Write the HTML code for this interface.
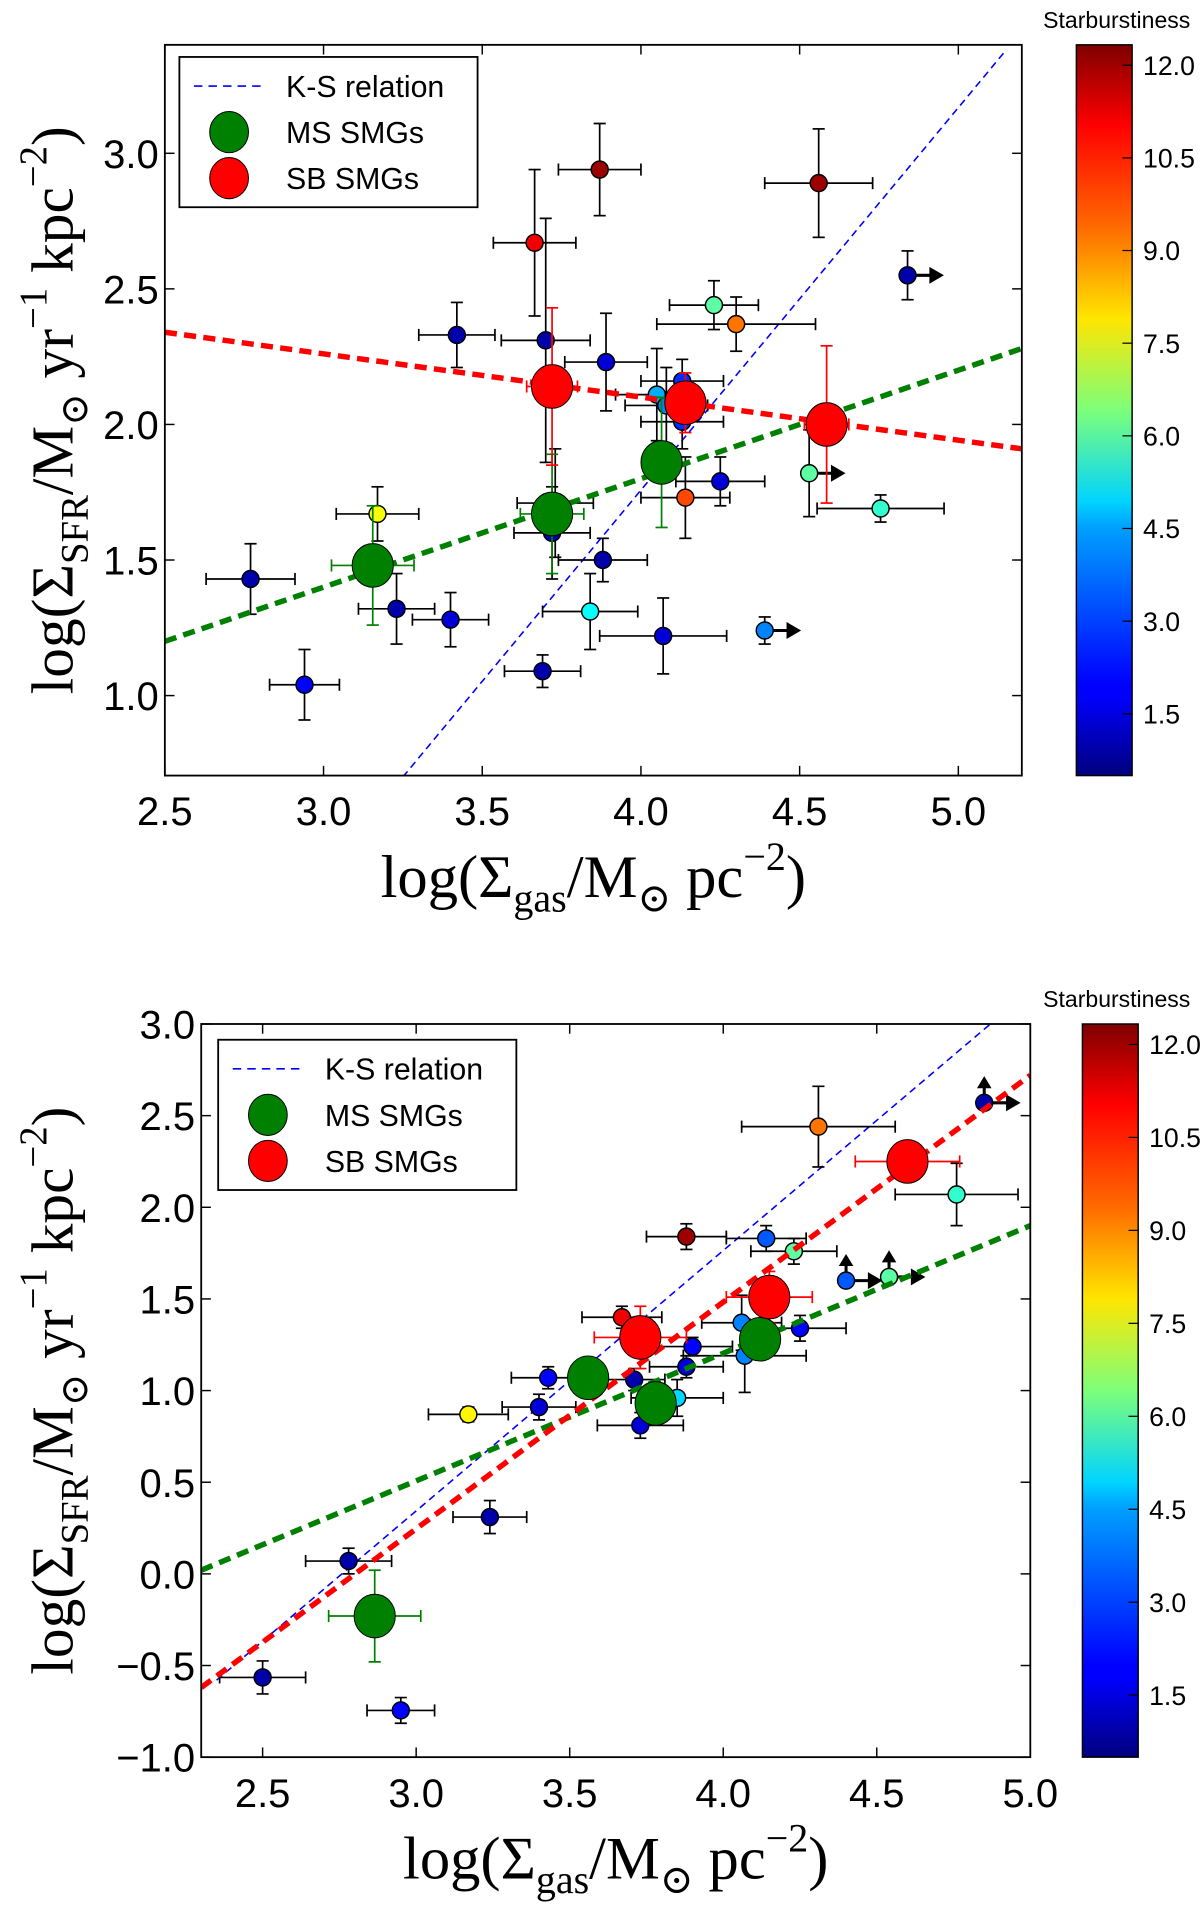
<!DOCTYPE html>
<html><head><meta charset="utf-8"><style>
html,body{margin:0;padding:0;background:#fff;}
svg{display:block;}
text{font-family:"Liberation Sans","DejaVu Sans",sans-serif;}
.serif{font-family:"Liberation Serif","DejaVu Serif",serif;}
</style></head><body>
<svg id="fig" width="1200" height="1905" viewBox="0 0 990 1572" preserveAspectRatio="none" xmlns="http://www.w3.org/2000/svg">
<defs>
<linearGradient id="jet" x1="0" y1="1" x2="0" y2="0">
<stop offset="0" stop-color="#00007f"/><stop offset="0.11" stop-color="#0000ff"/><stop offset="0.125" stop-color="#0000ff"/><stop offset="0.34" stop-color="#00a0ff"/><stop offset="0.375" stop-color="#00d4ff"/><stop offset="0.5" stop-color="#7dff7a"/><stop offset="0.625" stop-color="#ffe600"/><stop offset="0.75" stop-color="#ff6a00"/><stop offset="0.89" stop-color="#ff0000"/><stop offset="1" stop-color="#7f0000"/>
</linearGradient>
</defs>
<g id="top"></g>
<g id="bottom"></g>
</svg>
<script>
// ---------- TOP CHART DATA ----------
const topSmallX = [3.87,4.56,3.665,4.84,4.23,4.30,3.42,3.70,3.89,4.05,4.13,4.08,4.13,4.53,4.25,4.14,4.755,3.17,3.72,3.73,2.77,3.88,3.23,3.84,3.40,4.07,4.39,3.69,2.94];
const topSmallY = [2.94,2.89,2.67,2.55,2.44,2.37,2.33,2.31,2.23,2.11,2.16,2.07,2.01,1.82,1.79,1.73,1.69,1.67,1.60,1.71,1.43,1.50,1.32,1.31,1.28,1.22,1.24,1.09,1.04];
const topSmallXerr = [0.13,0.17,0.13,0,0.14,0.25,0.12,0.14,0.13,0.13,0.13,0.13,0.13,0,0.14,0.14,0.2,0.13,0.12,0.12,0.14,0.14,0.12,0.15,0.12,0.2,0,0.12,0.11];
const topSmallYerr = [0.17,0.2,0.27,0.09,0.09,0.1,0.12,0.45,0.18,0.17,0.08,0.14,0.1,0.16,0.09,0.15,0.05,0.1,0.17,0.2,0.13,0.08,0.13,0.14,0.1,0.14,0.05,0.06,0.13];
const topSmallC = [12,12,11,1,6,9.5,1,1,1.5,4,2.5,3.5,2.5,6,1.5,10,5.5,7.8,1,0.8,1,1,1,5,1.5,1.5,3.5,1,2];
const topArrowRight = [0,0,0,1,0,0,0,0,0,0,0,0,0,1,0,0,0,0,0,0,0,0,0,0,0,0,1,0,0];
const topArrowUp = [0,0,0,0,0,0,0,0,0,0,0,0,0,0,0,0,0,0,0,0,0,0,0,0,0,0,0,0,0];
const topMSX = [3.155,3.72,4.065];
const topMSY = [1.48,1.67,1.86];
const topMSXerr = [0.13,0.1,0.0];
const topMSYerr = [0.22,0.22,0.24];
const topSBX = [3.72,4.14,4.585];
const topSBY = [2.14,2.08,2.00];
const topSBXerr = [0.08,0.05,0.07];
const topSBYerr = [0.29,0.11,0.29];
const topRedFit = [[2.5,2.34],[5.2,1.91]];
const topGreenFit = [[2.5,1.20],[5.2,2.28]];
const topKS = [[3.25,0.7],[5.15,3.38]];
const topXTicks = [2.5,3.0,3.5,4.0,4.5,5.0];
const topYTicks = [1.0,1.5,2.0,2.5,3.0];
const cbTicks = [1.5,3.0,4.5,6.0,7.5,9.0,10.5,12.0];

// ---------- BOTTOM CHART DATA ----------
const botSmallX = [4.31,4.85,4.76,3.88,4.14,4.23,4.40,4.54,3.67,4.06,4.25,3.90,3.88,4.07,3.43,3.71,3.40,3.17,3.85,3.73,3.24,2.78,2.50,2.95];
const botSmallY = [2.44,2.57,2.07,1.84,1.83,1.76,1.60,1.62,1.40,1.37,1.34,1.24,1.13,1.19,1.07,1.06,0.91,0.87,0.96,0.81,0.31,0.07,-0.565,-0.745];
const botSmallXerr = [0.25,0,0.2,0.13,0.13,0.14,0,0,0.13,0.13,0.15,0.13,0.12,0.2,0.12,0.1,0.12,0.13,0.15,0.14,0.12,0.14,0.14,0.11];
const botSmallYerr = [0.22,0,0.17,0.07,0.07,0.07,0,0,0.06,0.15,0.07,0.05,0.06,0.2,0.06,0.06,0.07,0.04,0.1,0.07,0.09,0.07,0.09,0.07];
const botSmallC = [9.5,1,5.5,12,3,6,3,6,11,3.5,2,2,1.5,3.5,2,1,1.5,8,4.5,1.5,1,1,1,2];
const botArrowRight = [0,1,0,0,0,0,1,1,0,0,0,0,0,0,0,0,0,0,0,0,0,0,0,0];
const botArrowUp = [0,1,0,0,0,0,1,1,0,0,0,0,0,0,0,0,0,0,0,0,0,0,0,0];
const botMSX = [2.865,3.56,3.78,4.12];
const botMSY = [-0.23,1.07,0.93,1.28];
const botMSXerr = [0.15,0,0,0];
const botMSYerr = [0.25,0,0,0];
const botSBX = [3.73,4.15,4.60];
const botSBY = [1.29,1.51,2.25];
const botSBXerr = [0.15,0.14,0.17];
const botSBYerr = [0.17,0.14,0.1];
const botRedFit = [[2.3,-0.62],[5.0,2.72]];
const botGreenFit = [[2.3,0.02],[5.0,1.90]];
const botKS = [[2.35,-0.58],[4.87,3.0]];
const botXTicks = [2.5,3.0,3.5,4.0,4.5,5.0];
const botYTicks = [-1.0,-0.5,0.0,0.5,1.0,1.5,2.0,2.5,3.0];

const NS = "http://www.w3.org/2000/svg";
function mk(parent, tag, attrs, txt){
  const e = document.createElementNS(NS, tag);
  for (const k in attrs) e.setAttribute(k, attrs[k]);
  if (txt !== undefined) e.textContent = txt;
  parent.appendChild(e);
  return e;
}
function jet(v){
  let t = (v - 0.5) / (12.33 - 0.5); t = Math.max(0, Math.min(1, t));
  const f = (x) => Math.max(0, Math.min(1, x));
  const r = f(1.5 - Math.abs(4*t - 3)), g = f(1.5 - Math.abs(4*t - 2)), b = f(1.5 - Math.abs(4*t - 1));
  return `rgb(${Math.round(r*255)},${Math.round(g*255)},${Math.round(b*255)})`;
}

function drawPanel(g, P){
  const sx = (x) => P.ax0 + (x - P.xmin) / (P.xmax - P.xmin) * (P.ax1 - P.ax0);
  const sy = (y) => P.ay1 - (y - P.ymin) / (P.ymax - P.ymin) * (P.ay1 - P.ay0);
  const clip = mk(g, "clipPath", {id: P.id + "clip"});
  mk(clip, "rect", {x: P.ax0, y: P.ay0, width: P.ax1 - P.ax0, height: P.ay1 - P.ay0});
  const plot = mk(g, "g", {"clip-path": `url(#${P.id}clip)`});
  
  

  function errbars(xs, ys, xe, ye, col, w, cap){
    for (let i = 0; i < xs.length; i++){
      const cx = sx(xs[i]), cy = sy(ys[i]);
      if (xe[i] > 0){
        const a = sx(xs[i] - xe[i]), b = sx(xs[i] + xe[i]);
        mk(plot, "line", {x1: a, y1: cy, x2: b, y2: cy, stroke: col, "stroke-width": w});
        mk(plot, "line", {x1: a, y1: cy - cap, x2: a, y2: cy + cap, stroke: col, "stroke-width": w});
        mk(plot, "line", {x1: b, y1: cy - cap, x2: b, y2: cy + cap, stroke: col, "stroke-width": w});
      }
      if (ye[i] > 0){
        const a = sy(ys[i] - ye[i]), b = sy(ys[i] + ye[i]);
        mk(plot, "line", {x1: cx, y1: a, x2: cx, y2: b, stroke: col, "stroke-width": w});
        mk(plot, "line", {x1: cx - cap, y1: a, x2: cx + cap, y2: a, stroke: col, "stroke-width": w});
        mk(plot, "line", {x1: cx - cap, y1: b, x2: cx + cap, y2: b, stroke: col, "stroke-width": w});
      }
    }
  }
  function fitLine(pts, col, w, dash, name){
    const l = mk(plot, "line", {x1: sx(pts[0][0]), y1: sy(pts[0][1]), x2: sx(pts[1][0]), y2: sy(pts[1][1]), stroke: col, "stroke-width": w, "stroke-dasharray": dash});
    
    
  }
  fitLine(P.ks, "#0000ff", 1.3, "6,4", "ks-relation-line");

  errbars(P.sx, P.sy, P.sxe, P.sye, "#000", 1.4, 5);
  for (let i = 0; i < P.sx.length; i++){
    const cx = sx(P.sx[i]), cy = sy(P.sy[i]);
    if (P.ar[i]){
      mk(plot, "line", {x1: cx, y1: cy, x2: cx + 22, y2: cy, stroke: "#000", "stroke-width": 2.5});
      mk(plot, "polygon", {points: `${cx+18},${cy-7} ${cx+30},${cy} ${cx+18},${cy+7}`, fill: "#000"});
    }
    if (P.au[i]){
      mk(plot, "line", {x1: cx, y1: cy, x2: cx, y2: cy - 16, stroke: "#000", "stroke-width": 2.5});
      mk(plot, "polygon", {points: `${cx-6},${cy-12} ${cx},${cy-22} ${cx+6},${cy-12}`, fill: "#000"});
    }
    const c = mk(plot, "circle", {cx: cx, cy: cy, r: 7, fill: jet(P.sc[i]), stroke: "#000", "stroke-width": 1.2});
    
    
  }
  fitLine(P.gfit, "#008000", 4.5, "10,6", "ms-fit-line");
  fitLine(P.rfit, "#ff0000", 4.5, "10,6", "sb-fit-line");
  errbars(P.msx, P.msy, P.msxe, P.msye, "#008000", 1.4, 5);
  errbars(P.sbx, P.sby, P.sbxe, P.sbye, "#ff0000", 1.4, 5);
  for (let i = 0; i < P.msx.length; i++){
    const c = mk(plot, "ellipse", {cx: sx(P.msx[i]), cy: sy(P.msy[i]), rx: 17, ry: 18, fill: "#008000", stroke: "#000", "stroke-width": 0.8});
    
    
  }
  for (let i = 0; i < P.sbx.length; i++){
    const c = mk(plot, "ellipse", {cx: sx(P.sbx[i]), cy: sy(P.sby[i]), rx: 17, ry: 18, fill: "#ff0000", stroke: "#000", "stroke-width": 0.8});
    
    
  }

  const fr = mk(g, "rect", {x: P.ax0, y: P.ay0, width: P.ax1 - P.ax0, height: P.ay1 - P.ay0, fill: "none", stroke: "#000", "stroke-width": 1.5});
  
  
  P.xt.forEach(v => {
    const x = sx(v);
    mk(g, "line", {x1: x, y1: P.ay1, x2: x, y2: P.ay1 - 8, stroke: "#000", "stroke-width": 1.2});
    mk(g, "line", {x1: x, y1: P.ay0, x2: x, y2: P.ay0 + 8, stroke: "#000", "stroke-width": 1.2});
    const t = mk(g, "text", {x: x, y: P.ay1 + 41, "text-anchor": "middle", "font-size": 33}, v.toFixed(1));
    
    
  });
  P.yt.forEach(v => {
    const y = sy(v);
    mk(g, "line", {x1: P.ax0, y1: y, x2: P.ax0 + 8, y2: y, stroke: "#000", "stroke-width": 1.2});
    mk(g, "line", {x1: P.ax1, y1: y, x2: P.ax1 - 8, y2: y, stroke: "#000", "stroke-width": 1.2});
    const t = mk(g, "text", {x: P.ax0 - 5, y: y + 12, "text-anchor": "end", "font-size": 33}, (v < 0 ? "\u2212" + Math.abs(v).toFixed(1) : v.toFixed(1)));
    
    
  });
  const xl = mk(g, "text", {x: (P.ax0 + P.ax1) / 2, y: P.ay1 + 100, "text-anchor": "middle", "font-size": 50, class: "serif"});
  
  
  xl.innerHTML = 'log(Σ<tspan font-size="33" dy="12">gas</tspan><tspan dy="-12">/M</tspan><tspan font-size="33" dy="12">⊙</tspan><tspan dy="-12"> pc</tspan><tspan font-size="33" dy="-22">−2</tspan><tspan dy="22">)</tspan>';
  const ylx = 60, yly = (P.ay0 + P.ay1) / 2;
  const yl = mk(g, "text", {x: ylx, y: yly, "text-anchor": "middle", "font-size": 49, class: "serif", transform: `rotate(-90 ${ylx} ${yly})`});
  
  
  yl.innerHTML = 'log(Σ<tspan font-size="32" dy="12">SFR</tspan><tspan dy="-12">/M</tspan><tspan font-size="32" dy="12">⊙</tspan><tspan dy="-12"> yr</tspan><tspan font-size="32" dy="-22">−1</tspan><tspan dy="22"> kpc</tspan><tspan font-size="32" dy="-22">−2</tspan><tspan dy="22">)</tspan>';

  const L = mk(g, "g", {});
  
  
  mk(L, "rect", {x: P.lx, y: P.ly, width: 246, height: 124, fill: "#fff", stroke: "#000", "stroke-width": 1.5});
  mk(L, "line", {x1: P.lx + 12, y1: P.ly + 24, x2: P.lx + 68, y2: P.ly + 24, stroke: "#0000ff", "stroke-width": 1.3, "stroke-dasharray": "7,5"});
  mk(L, "text", {x: P.lx + 88, y: P.ly + 33, "font-size": 25}, "K-S relation");
  mk(L, "ellipse", {cx: P.lx + 41, cy: P.ly + 62, rx: 16, ry: 17, fill: "#008000", stroke: "#000", "stroke-width": 0.8});
  mk(L, "text", {x: P.lx + 88, y: P.ly + 71, "font-size": 25}, "MS SMGs");
  mk(L, "ellipse", {cx: P.lx + 41, cy: P.ly + 100, rx: 16, ry: 17, fill: "#ff0000", stroke: "#000", "stroke-width": 0.8});
  mk(L, "text", {x: P.lx + 88, y: P.ly + 109, "font-size": 25}, "SB SMGs");

  const CB = mk(g, "g", {});
  
  
  mk(CB, "rect", {x: P.cx, y: P.ay0, width: 46, height: P.ay1 - P.ay0, fill: "url(#jet)", stroke: "#000", "stroke-width": 1.2});
  const cy = (v) => P.ay1 - (v - 0.5) / (12.33 - 0.5) * (P.ay1 - P.ay0);
  cbTicks.forEach(v => {
    const y = cy(v);
    mk(CB, "line", {x1: P.cx + 46, y1: y, x2: P.cx + 38, y2: y, stroke: "#000", "stroke-width": 1});
    mk(CB, "text", {x: P.cx + 55, y: y + 8, "font-size": 22}, v.toFixed(1));
  });
  mk(CB, "text", {x: 982, y: P.ay0 - 14, "text-anchor": "end", "font-size": 19}, "Starburstiness");
}

drawPanel(document.getElementById("top"), {
  id: "t", ax0: 136, ax1: 843, ay0: 37, ay1: 640, xmin: 2.5, xmax: 5.2, ymin: 0.705, ymax: 3.4,
  sx: topSmallX, sy: topSmallY, sxe: topSmallXerr, sye: topSmallYerr, sc: topSmallC, ar: topArrowRight, au: topArrowUp,
  msx: topMSX, msy: topMSY, msxe: topMSXerr, msye: topMSYerr,
  sbx: topSBX, sby: topSBY, sbxe: topSBXerr, sbye: topSBYerr,
  rfit: topRedFit, gfit: topGreenFit, ks: topKS, xt: topXTicks, yt: topYTicks,
  lx: 148, ly: 47, cx: 888
});
drawPanel(document.getElementById("bottom"), {
  id: "b", ax0: 166, ax1: 850, ay0: 845, ay1: 1450, xmin: 2.3, xmax: 5.0, ymin: -1.0, ymax: 3.0,
  sx: botSmallX, sy: botSmallY, sxe: botSmallXerr, sye: botSmallYerr, sc: botSmallC, ar: botArrowRight, au: botArrowUp,
  msx: botMSX, msy: botMSY, msxe: botMSXerr, msye: botMSYerr,
  sbx: botSBX, sby: botSBY, sbxe: botSBXerr, sbye: botSBYerr,
  rfit: botRedFit, gfit: botGreenFit, ks: botKS, xt: botXTicks, yt: botYTicks,
  lx: 180, ly: 858, cx: 893
});
</script>
</body></html>
